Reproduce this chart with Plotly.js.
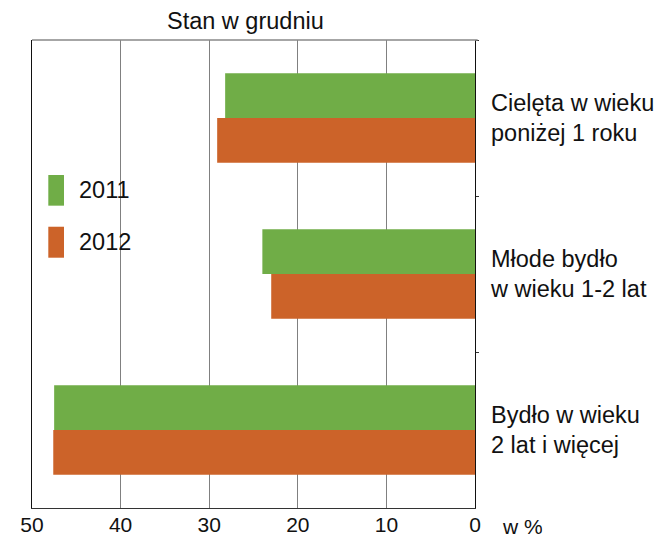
<!DOCTYPE html>
<html>
<head>
<meta charset="utf-8">
<script src="https://cdn.plot.ly/plotly-3.0.1.min.js"></script>
<style>html,body{margin:0;padding:0;background:#fff;}#chart{width:657px;height:538px;}</style>
</head>
<body>
<div id="chart"></div>
<script>
var categories = ["Cielęta w wieku<br>poniżej 1 roku", "Młode bydło<br>w wieku 1-2 lat", "Bydło w wieku<br>2 lat i więcej"];
var years = ["2011", "2012"];
var values2011 = [28.2, 24.0, 47.5];
var values2012 = [29.1, 23.0, 47.6];
var xTicks = [0, 10, 20, 30, 40, 50];
var colors = ["#70AD47", "#CC6329"];

var FONT = "Liberation Sans, Arial, sans-serif";

var traces = [
  {type: "bar", orientation: "h", name: years[0], y: categories, x: values2011,
   marker: {color: colors[0], line: {width: 0}}, showlegend: false, hoverinfo: "x"},
  {type: "bar", orientation: "h", name: years[1], y: categories, x: values2012,
   marker: {color: colors[1], line: {width: 0}}, showlegend: false, hoverinfo: "x"}
];

var layout = {
  width: 657, height: 538,
  margin: {l: 32, r: 181.5, t: 40, b: 30, pad: 0},
  paper_bgcolor: "#fff", plot_bgcolor: "#fff",
  font: {family: FONT, color: "#111", size: 21},
  barmode: "group", bargap: 0.427, bargroupgap: 0,
  xaxis: {
    range: [50, 0], tickvals: xTicks, ticktext: xTicks.map(String),
    showgrid: true, gridcolor: "#808080", gridwidth: 1,
    zeroline: false, showline: true, linecolor: "#333", linewidth: 1.3,
    ticks: "", ticklabelstandoff: -3,
    tickfont: {size: 21, family: FONT, color: "#111"},
    fixedrange: true
  },
  yaxis: {
    type: "category", autorange: "reversed", side: "right",
    showgrid: false, zeroline: false, showline: true, linecolor: "#111", linewidth: 1.3,
    mirror: true, ticks: "outside", tickson: "boundaries", ticklen: 3, tickcolor: "#333",
    ticklabelstandoff: 10,
    tickfont: {size: 23.5, family: FONT, color: "#111"},
    fixedrange: true
  },
  shapes: [
    {type: "line", xref: "paper", yref: "paper", x0: 0, x1: 1.006, y0: 1, y1: 1, line: {color: "#888", width: 1.3}},
    {type: "rect", xref: "paper", yref: "paper", x0: 0.0368, x1: 0.0722, y0: 0.646, y1: 0.7115, fillcolor: colors[0], line: {width: 0}},
    {type: "rect", xref: "paper", yref: "paper", x0: 0.0368, x1: 0.0722, y0: 0.5348, y1: 0.601, fillcolor: colors[1], line: {width: 0}}
  ],
  annotations: [
    {text: "Stan w grudniu", xref: "paper", yref: "paper", x: 0.4825, y: 1.04, xanchor: "center", yanchor: "middle", showarrow: false, font: {size: 23.5, family: FONT, color: "#111"}},
    {text: years[0], xref: "paper", yref: "paper", x: 0.1015, y: 0.6795, xanchor: "left", yanchor: "middle", showarrow: false, font: {size: 23.5, family: FONT, color: "#111"}},
    {text: years[1], xref: "paper", yref: "paper", x: 0.1015, y: 0.568, xanchor: "left", yanchor: "middle", showarrow: false, font: {size: 23.5, family: FONT, color: "#111"}},
    {text: "w %", xref: "paper", yref: "paper", x: 1.0575, y: -0.0375, xanchor: "left", yanchor: "middle", height: 18, valign: "middle", showarrow: false, font: {size: 21, family: FONT, color: "#111"}}
  ]
};

Plotly.newPlot("chart", traces, layout, {staticPlot: true, displayModeBar: false});
</script>
</body>
</html>
